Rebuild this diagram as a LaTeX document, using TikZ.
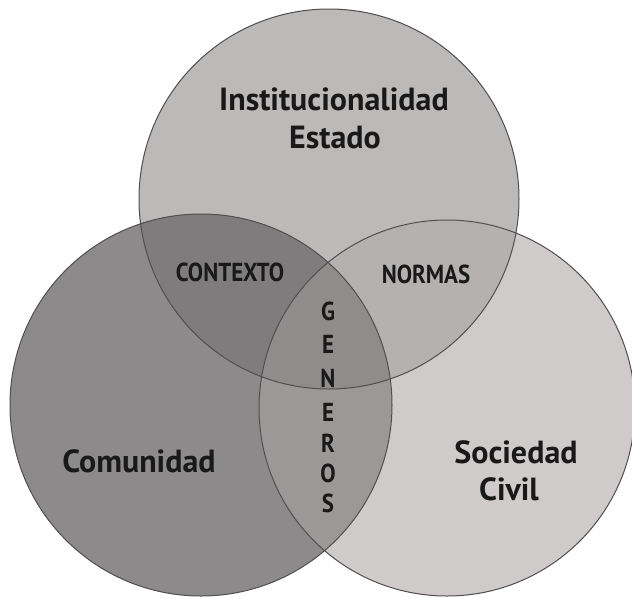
\documentclass[tikz,border=0pt]{standalone}
\usepackage{fontspec}
\newfontfamily\labfont{PT Sans}
\newfontfamily\condfont[FakeStretch=0.88]{PT Sans}
\definecolor{cT}{RGB}{188,185,185}
\definecolor{cL}{RGB}{140,138,138}
\definecolor{cR}{RGB}{207,203,203}
\definecolor{cTL}{RGB}{126,124,124}
\definecolor{cTR}{RGB}{181,177,177}
\definecolor{cLR}{RGB}{155,152,152}
\definecolor{cTLR}{RGB}{143,140,140}
\definecolor{edge}{RGB}{80,78,78}
\definecolor{ink}{RGB}{25,25,25}
\tikzset{
  big/.style={font=\labfont\bfseries\fontsize{32}{36}\selectfont, text=ink, anchor=base, inner sep=0pt},
  small/.style={font=\condfont\bfseries\fontsize{26}{30}\selectfont, text=ink, anchor=base, inner sep=0pt},
  ring/.style={draw=edge, line width=1pt}
}
\def\circT{(329,199) circle[radius=190]}
\def\circL{(201,405) circle[radius=191]}
\def\circR{(447,408) circle[radius=188]}
\begin{document}
\begin{tikzpicture}[x=1pt,y=-1pt]
\useasboundingbox[fill=white] (0,0) rectangle (632,598);
\clip (0,0) rectangle (632,598);
\fill[cT] \circT;
\fill[cL] \circL;
\fill[cR] \circR;
\begin{scope}\clip \circT; \fill[cTL] \circL; \end{scope}
\begin{scope}\clip \circT; \fill[cTR] \circR; \end{scope}
\begin{scope}\clip \circL; \fill[cLR] \circR; \end{scope}
\begin{scope}\clip \circT; \clip \circL; \fill[cTLR] \circR; \end{scope}
\draw[ring] \circT;
\draw[ring] \circL;
\draw[ring] \circR;
\node[big] (inst) at (334,110) {Institucionalidad};
\node[big] (estado) at (335,148) {Estado};
\node[small] (contexto) at (230,281) {CONTEXTO};
\node[small] (normas) at (426,283) {NORMAS};
\node[small] (g1) at (328,320) {G};
\node[small] (g2) at (328,353) {E};
\node[small] (g3) at (328,387) {N};
\node[small] (g4) at (328,421) {E};
\node[small] (g5) at (328,452) {R};
\node[small] (g6) at (328,482) {O};
\node[small] (g7) at (328,512) {S};
\node[big] (comunidad) at (139,472) {Comunidad};
\node[big] (sociedad) at (516,463) {Sociedad};
\node[big] (civil) at (509,500) {Civil};
\end{tikzpicture}
\end{document}
